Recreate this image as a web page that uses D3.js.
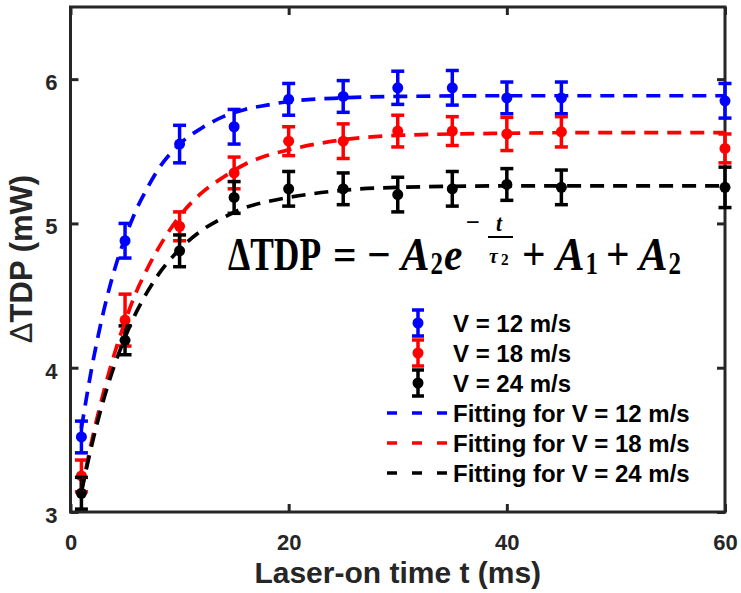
<!DOCTYPE html>
<html><head><meta charset="utf-8">
<script src="https://cdn.jsdelivr.net/npm/d3@7"></script>
<style>html,body{margin:0;padding:0;background:#fff;}svg{display:block;}</style>
</head><body>
<svg id="chart" width="741" height="593"></svg>
<script>
// ---- data ----
const times = [1, 5, 10, 15, 20, 25, 30, 35, 40, 45, 60];
const v12 = [3.52, 4.88, 5.55, 5.67, 5.86, 5.88, 5.94, 5.94, 5.87, 5.87, 5.85];
const v12Err = [0.11, 0.12, 0.13, 0.12, 0.11, 0.11, 0.115, 0.12, 0.11, 0.11, 0.12];
const v18 = [3.25, 4.33, 4.98, 5.35, 5.57, 5.57, 5.64, 5.64, 5.62, 5.635, 5.52];
const v18Err = [0.11, 0.18, 0.10, 0.11, 0.10, 0.12, 0.11, 0.10, 0.115, 0.105, 0.10];
const v24 = [3.13, 4.19, 4.81, 5.18, 5.24, 5.24, 5.20, 5.24, 5.27, 5.25, 5.25];
const v24Err = [0.11, 0.10, 0.11, 0.11, 0.12, 0.11, 0.12, 0.12, 0.11, 0.12, 0.14];

const fitTimes = [1, 2, 3, 4, 5, 6, 7, 8, 10, 12, 14, 16, 18, 20, 25, 30, 40, 50, 60];
const fit12 = [3.58, 4.02, 4.38, 4.67, 4.90, 5.09, 5.24, 5.37, 5.55, 5.66, 5.74, 5.79, 5.82, 5.845, 5.87, 5.88, 5.885, 5.885, 5.885];
const fit18 = [3.14, 3.51, 3.82, 4.09, 4.32, 4.52, 4.68, 4.82, 5.05, 5.21, 5.32, 5.41, 5.47, 5.51, 5.58, 5.61, 5.625, 5.63, 5.63];
const fit24 = [3.14, 3.48, 3.77, 4.01, 4.21, 4.38, 4.52, 4.64, 4.82, 4.95, 5.04, 5.11, 5.15, 5.18, 5.23, 5.25, 5.26, 5.26, 5.26];

const xTicks = [0, 20, 40, 60];
const yTicks = [3, 4, 5, 6];
const seriesNames = ["V = 12 m/s", "V = 18 m/s", "V = 24 m/s"];
const fitNames = ["Fitting for V = 12 m/s", "Fitting for V = 18 m/s", "Fitting for V = 24 m/s"];
const colors = ["#0000ff", "#ff0000", "#000000"];

// ---- layout ----
const svg = d3.select("#chart");
const X0 = 70.5, X1 = 725, Y0 = 512, Y1 = 7;
const x = d3.scaleLinear().domain([0, 60]).range([X0, X1]);
const y = d3.scaleLinear().domain([3, 6.5]).range([Y0, Y1]);
const axisColor = "#262626";
const sansFont = "'Liberation Sans', Arial, Helvetica, sans-serif";
const serifFont = "'Liberation Serif', 'Times New Roman', serif";

// axes
function styleAxis(g) {
  g.select(".domain").remove();
  g.selectAll(".tick line").attr("stroke", axisColor).attr("stroke-width", 3);
  g.selectAll(".tick text").attr("fill", axisColor).attr("font-family", sansFont)
    .attr("font-weight", "bold").attr("font-size", 22);
}
svg.append("g").attr("transform", `translate(0,${Y0})`)
  .call(d3.axisBottom(x).tickValues(xTicks).tickFormat(d3.format("d")).tickSizeInner(-8).tickSizeOuter(0).tickPadding(22))
  .call(styleAxis);
svg.append("g").attr("transform", `translate(0,${Y1})`)
  .call(d3.axisTop(x).tickValues(xTicks).tickFormat("").tickSizeInner(-8).tickSizeOuter(0))
  .call(styleAxis);
const gl = svg.append("g").attr("transform", `translate(${X0},0)`)
  .call(d3.axisLeft(y).tickValues(yTicks).tickFormat(d3.format("d")).tickSizeInner(-8).tickSizeOuter(0).tickPadding(13))
  .call(styleAxis);
gl.selectAll(".tick text").attr("dy", "0.48em");
svg.append("g").attr("transform", `translate(${X1},0)`)
  .call(d3.axisRight(y).tickValues(yTicks).tickFormat("").tickSizeInner(-8).tickSizeOuter(0))
  .call(styleAxis);
svg.append("rect").attr("x", X0).attr("y", Y1).attr("width", X1 - X0).attr("height", Y0 - Y1)
  .attr("fill", "none").attr("stroke", axisColor).attr("stroke-width", 3);

// axis labels
svg.append("text").attr("x", (X0 + X1) / 2).attr("y", 583).attr("text-anchor", "middle")
  .attr("font-family", sansFont).attr("font-weight", "bold").attr("font-size", 30)
  .attr("fill", axisColor).text("Laser-on time t (ms)");
const yl = svg.append("text").attr("transform", "translate(32,259) rotate(-90)")
  .attr("text-anchor", "middle").attr("font-family", sansFont).attr("font-weight", "bold")
  .attr("font-size", 31).attr("fill", axisColor);
yl.append("tspan").attr("font-weight", "normal").text("\u0394");
yl.append("tspan").text("TDP (mW)");

// ---- error bars ----
const dataSets = [[v12, v12Err], [v18, v18Err], [v24, v24Err]];
const capW = 6.5;
dataSets.forEach(([vals, errs], i) => {
  const g = svg.append("g");
  const c = colors[i];
  const pts = times.map((t, k) => ({ t, v: vals[k], e: errs[k] }));
  g.selectAll("line.v").data(pts).join("line")
    .attr("x1", d => x(d.t)).attr("x2", d => x(d.t))
    .attr("y1", d => y(d.v - d.e)).attr("y2", d => y(d.v + d.e))
    .attr("stroke", c).attr("stroke-width", 3.5);
  ["top", "bot"].forEach(w => {
    g.selectAll("line.c" + w).data(pts).join("line")
      .attr("x1", d => x(d.t) - capW).attr("x2", d => x(d.t) + capW)
      .attr("y1", d => y(w === "top" ? d.v + d.e : d.v - d.e))
      .attr("y2", d => y(w === "top" ? d.v + d.e : d.v - d.e))
      .attr("stroke", c).attr("stroke-width", 3.5);
  });
  g.selectAll("circle").data(pts).join("circle")
    .attr("cx", d => x(d.t)).attr("cy", d => y(d.v)).attr("r", 5.5).attr("fill", c);
});

// ---- fits ----
const line = d3.line().x(d => x(d[0])).y(d => y(d[1])).curve(d3.curveMonotoneX);
[fit12, fit18, fit24].forEach((vals, i) => {
  svg.append("path").datum(fitTimes.map((t, k) => [t, vals[k]]))
    .attr("d", line).attr("fill", "none").attr("stroke", colors[i])
    .attr("stroke-width", 3.7).attr("stroke-dasharray", "14,9");
});

// ---- legend ----
const lg = svg.append("g");
const rowY = k => 323 + k * 30;
seriesNames.forEach((name, i) => {
  const cy = rowY(i), cx = 418, c = colors[i];
  lg.append("line").attr("x1", cx).attr("x2", cx).attr("y1", cy - 13).attr("y2", cy + 13).attr("stroke", c).attr("stroke-width", 3.5);
  [cy - 13, cy + 13].forEach(yy => lg.append("line").attr("x1", cx - 6).attr("x2", cx + 6).attr("y1", yy).attr("y2", yy).attr("stroke", c).attr("stroke-width", 3.5));
  lg.append("circle").attr("cx", cx).attr("cy", cy).attr("r", 5.5).attr("fill", c);
  lg.append("text").attr("x", 453).attr("y", cy + 9).attr("font-family", sansFont).attr("font-weight", "bold")
    .attr("font-size", 24).attr("fill", "#000").text(name);
});
fitNames.forEach((name, i) => {
  const cy = rowY(i + 3);
  lg.append("line").attr("x1", 387).attr("x2", 448).attr("y1", cy).attr("y2", cy)
    .attr("stroke", colors[i]).attr("stroke-width", 3.5).attr("stroke-dasharray", "10,15");
  lg.append("text").attr("x", 453).attr("y", cy + 9).attr("font-family", sansFont).attr("font-weight", "bold")
    .attr("font-size", 24).attr("fill", "#000").text(name);
});

// ---- formula ----
const fg = svg.append("g").attr("font-family", serifFont).attr("font-weight", "bold").attr("fill", "#000");
const pieces = [
  { s: "\u0394TDP", x: 228, y: 270, size: 46, it: false, sx: 0.77 },
  { s: "=", x: 333, y: 270, size: 46, it: false, sx: 0.9 },
  { s: "\u2212", x: 367, y: 270, size: 46, it: false, sx: 0.9 },
  { s: "A", x: 401, y: 270, size: 46, it: true, sx: 0.93 },
  { s: "2", x: 430.5, y: 274, size: 32, it: false, sx: 0.78 },
  { s: "e", x: 444, y: 270, size: 46, it: true, sx: 0.9 },
  { s: "\u2212", x: 466, y: 231, size: 26, it: false, sx: 0.95 },
  { s: "t", x: 496, y: 231, size: 24, it: true, sx: 0.9 },
  { s: "\u03c4", x: 489, y: 263, size: 22, it: true, sx: 0.9 },
  { s: "2", x: 501, y: 265, size: 17, it: false, sx: 0.9 },
  { s: "+", x: 522, y: 270, size: 46, it: false, sx: 0.9 },
  { s: "A", x: 556, y: 270, size: 46, it: true, sx: 0.93 },
  { s: "1", x: 585.5, y: 274, size: 32, it: false, sx: 0.78 },
  { s: "+", x: 606, y: 270, size: 46, it: false, sx: 0.9 },
  { s: "A", x: 639, y: 270, size: 46, it: true, sx: 0.93 },
  { s: "2", x: 668.5, y: 274, size: 32, it: false, sx: 0.78 }
];
pieces.forEach(p => {
  fg.append("text").attr("transform", `translate(${p.x},${p.y}) scale(${p.sx},1)`)
    .attr("font-size", p.size).attr("font-style", p.it ? "italic" : "normal").text(p.s);
});
fg.append("line").attr("x1", 488).attr("x2", 513).attr("y1", 237).attr("y2", 237).attr("stroke", "#000").attr("stroke-width", 2);
</script>
</body></html>
